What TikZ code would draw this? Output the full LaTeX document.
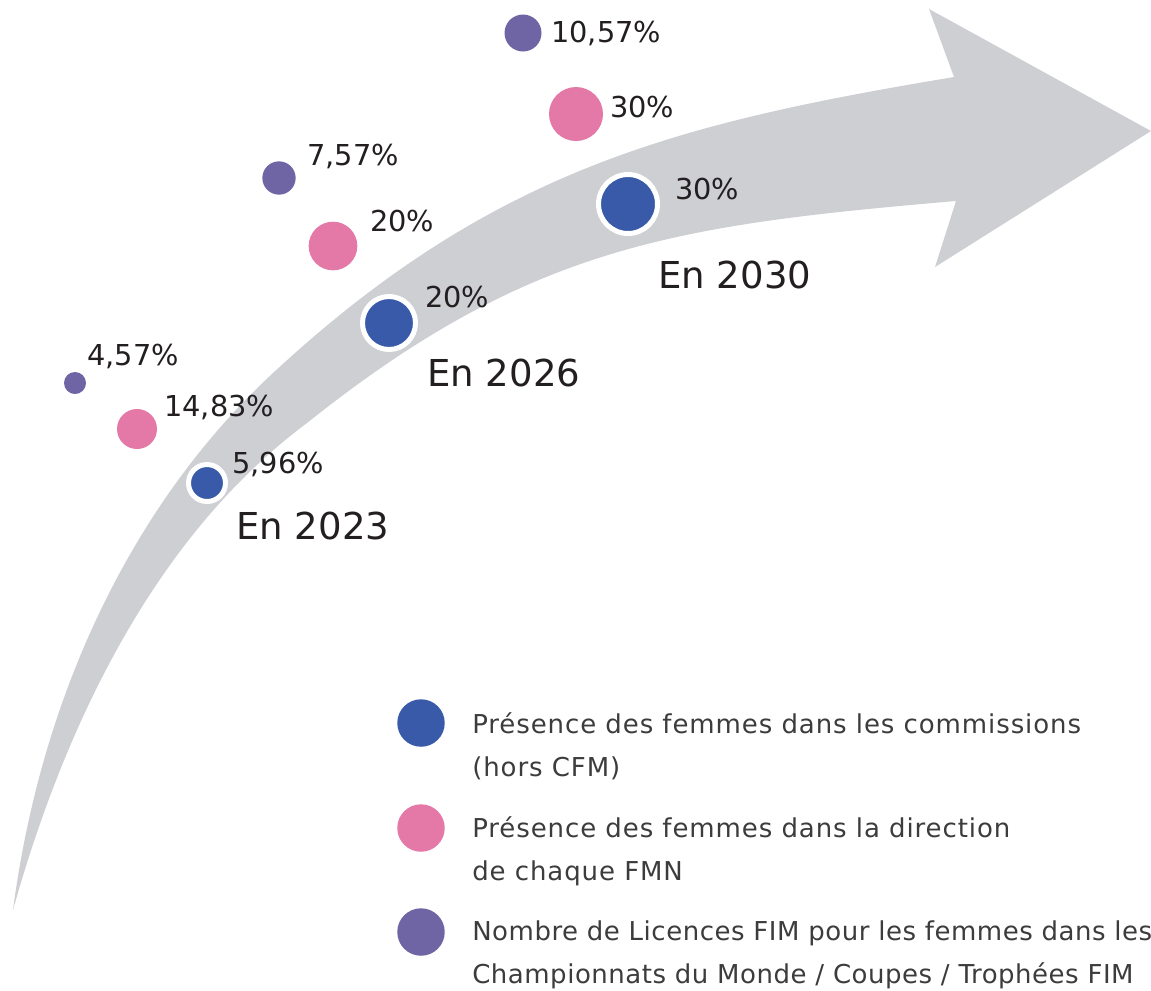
\documentclass[tikz,border=0pt]{standalone}
\usepackage{fontspec}
\setmainfont{DejaVu Sans}
\newfontfamily\legendfont[LetterSpace=3.5]{DejaVu Sans}
\newfontfamily\legendtightfont[LetterSpace=2.0]{DejaVu Sans}
\usepackage{tikz}

\begin{document}
\begin{tikzpicture}[x=0.75pt,y=0.75pt,yscale=-1,xscale=1,
  spot/.style={circle,inner sep=0pt,draw=none},
  bluedot/.style={spot,fill={rgb, 255:red, 56; green, 90; blue, 168}},
  ringdot/.style={bluedot,draw=white,line width=3.75pt},
  pinkdot/.style={spot,fill={rgb, 255:red, 228; green, 120; blue, 167}},
  purpledot/.style={spot,fill={rgb, 255:red, 111; green, 100; blue, 164}},
  pct/.style={anchor=base west,inner sep=0pt,text={rgb, 255:red, 35; green, 31; blue, 32},font=\fontsize{21.6}{26}\selectfont},
  year/.style={pct,font=\fontsize{27.8}{33}\selectfont},
  legtext/.style={anchor=base west,inner sep=0pt,align=left,text={rgb, 255:red, 60; green, 60; blue, 60},font=\legendfont\fontsize{19.5}{32.25}\selectfont}
]
\useasboundingbox (0,0) rectangle (1151,990);

%Shape: Curved Arrow
\fill [color={rgb, 255:red, 206; green, 207; blue, 211 }] (13,910) .. controls (43,682) and (141,495) .. (273,373) .. controls (493,169) and (678,123) .. (954,77) -- (929,9) -- (1151,131) -- (935,267) -- (956,201) .. controls (677,225) and (530,245) .. (307,423) .. controls (150,540) and (62,735) .. (13,910) -- cycle ;

%Shape: Circle (licences)
\node [purpledot,minimum size=16.5pt] (v23) at (75,383) {};
\node [purpledot,minimum size=25pt] (v26) at (279,178) {};
\node [purpledot,minimum size=27.75pt] (v30) at (523,33) {};
%Shape: Circle (direction FMN)
\node [pinkdot,minimum size=30pt] (d23) at (137,429) {};
\node [pinkdot,minimum size=36.5pt] (d26) at (333,246) {};
\node [pinkdot,minimum size=40.5pt] (d30) at (576,114) {};
%Shape: Circle (commissions)
\node [ringdot,minimum size=27.75pt] (c23) at (207,483) {};
\node [ringdot,minimum size=39.75pt] (c26) at (389,323) {};
\node [ringdot,minimum size=44.25pt] (c30) at (628,204) {};

% Text Node
\node [pct] (v23lab) at (87,365) {4,57\%};
% Text Node
\node [pct] (v26lab) at (307,165) {7,57\%};
% Text Node
\node [pct] (v30lab) at (551,42) {10,57\%};
% Text Node
\node [pct] (d23lab) at (164,416) {14,83\%};
% Text Node
\node [pct] (d26lab) at (370,231) {20\%};
% Text Node
\node [pct] (d30lab) at (610,117) {30\%};
% Text Node
\node [pct] (c23lab) at (232,473) {5,96\%};
% Text Node
\node [pct] (c26lab) at (425,307) {20\%};
% Text Node
\node [pct] (c30lab) at (675,199) {30\%};
% Text Node
\node [year] (y23) at (236,539) {En 2023};
% Text Node
\node [year] (y26) at (427,386) {En 2026};
% Text Node
\node [year] (y30) at (658,288) {En 2030};

%Shape: Circle (legend)
\node [bluedot,minimum size=35.6pt] (legc) at (421,723) {};
\node [pinkdot,minimum size=35.6pt] (legd) at (421,828) {};
\node [purpledot,minimum size=35.6pt] (legv) at (421,932) {};
% Text Node (base = last line)
\node [legtext] (legctext) at (472,776) {Présence des femmes dans les commissions\\(hors CFM)};
% Text Node
\node [legtext] (legdtext) at (472,880) {Présence des femmes dans la direction\\de chaque FMN};
% Text Node
\node [legtext,font=\legendtightfont\fontsize{19.5}{32.25}\selectfont] (legvtext) at (472,983) {Nombre de Licences FIM pour les femmes dans les\\Championnats du Monde / Coupes / Trophées FIM};

\end{tikzpicture}
\end{document}
